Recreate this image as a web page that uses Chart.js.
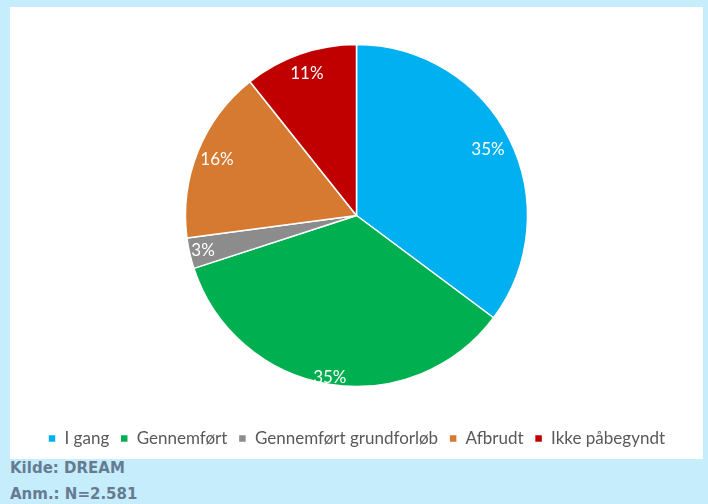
<!DOCTYPE html>
<html>
<head>
<meta charset="utf-8">
<script src="https://cdn.jsdelivr.net/npm/chart.js@4/dist/chart.umd.min.js"></script>
<style>
    html, body { margin: 0; padding: 0; }
    body { width: 708px; height: 504px; background: #c5edfc; position: relative; overflow: hidden; }
    #box { position: absolute; left: 10px; top: 7px; width: 693px; height: 452px; background: #fff; }
    .note { position: absolute; left: 10px; font-family: "DejaVu Sans", sans-serif; font-weight: bold;
            font-size: 15px; color: #667b92; }
</style>
</head>
<body>
<div id="box"><canvas id="pieChart" width="693" height="452"></canvas></div>
<div class="note" style="top:459px">Kilde: DREAM</div>
<div class="note" style="top:485px">Anm.: N=2.581</div>
<script>
const categories = ['I gang', 'Gennemført', 'Gennemført grundforløb', 'Afbrudt', 'Ikke påbegyndt'];
const shares = [35.2, 34.8, 2.9, 16.4, 10.7];
const colors = ['#00b0f0', '#00b050', '#8c8c8c', '#d57a30', '#c00000'];

// Excel style data labels, each slice gets its own distance from the centre
const labelPlugin = {
    id: 'sliceLabels',
    afterDatasetsDraw(chart) {
        const ctx = chart.ctx;
        const dist = [0.86, 0.96, 0.92, 0.88, 0.88];
        chart.getDatasetMeta(0).data.forEach((arc, i) => {
            const mid = (arc.startAngle + arc.endAngle) / 2;
            const r = arc.outerRadius * dist[i];
            ctx.save();
            ctx.fillStyle = '#fff';
            ctx.font = '17px Lato, "Open Sans", sans-serif';
            ctx.textAlign = 'center';
            ctx.textBaseline = 'middle';
            ctx.fillText(Math.round(shares[i]) + '%', arc.x + Math.cos(mid) * r, arc.y + Math.sin(mid) * r);
            ctx.restore();
        });
    }
};

new Chart(document.getElementById('pieChart'), {
    type: 'pie',
    data: {
        labels: categories,
        datasets: [{
            data: shares,
            backgroundColor: colors,
            borderColor: '#fff',
            borderWidth: 1.5
        }]
    },
    options: {
        responsive: false,
        animation: false,
        radius: 171,
        layout: { padding: { top: 5, bottom: 2 } },
        plugins: {
            tooltip: { enabled: false },
            legend: {
                position: 'bottom',
                labels: {
                    boxWidth: 8,
                    boxHeight: 8,
                    padding: 11,
                    color: '#595959',
                    font: { family: 'Lato, "Open Sans", sans-serif', size: 17 }
                }
            }
        }
    },
    plugins: [labelPlugin]
});
</script>
</body>
</html>
